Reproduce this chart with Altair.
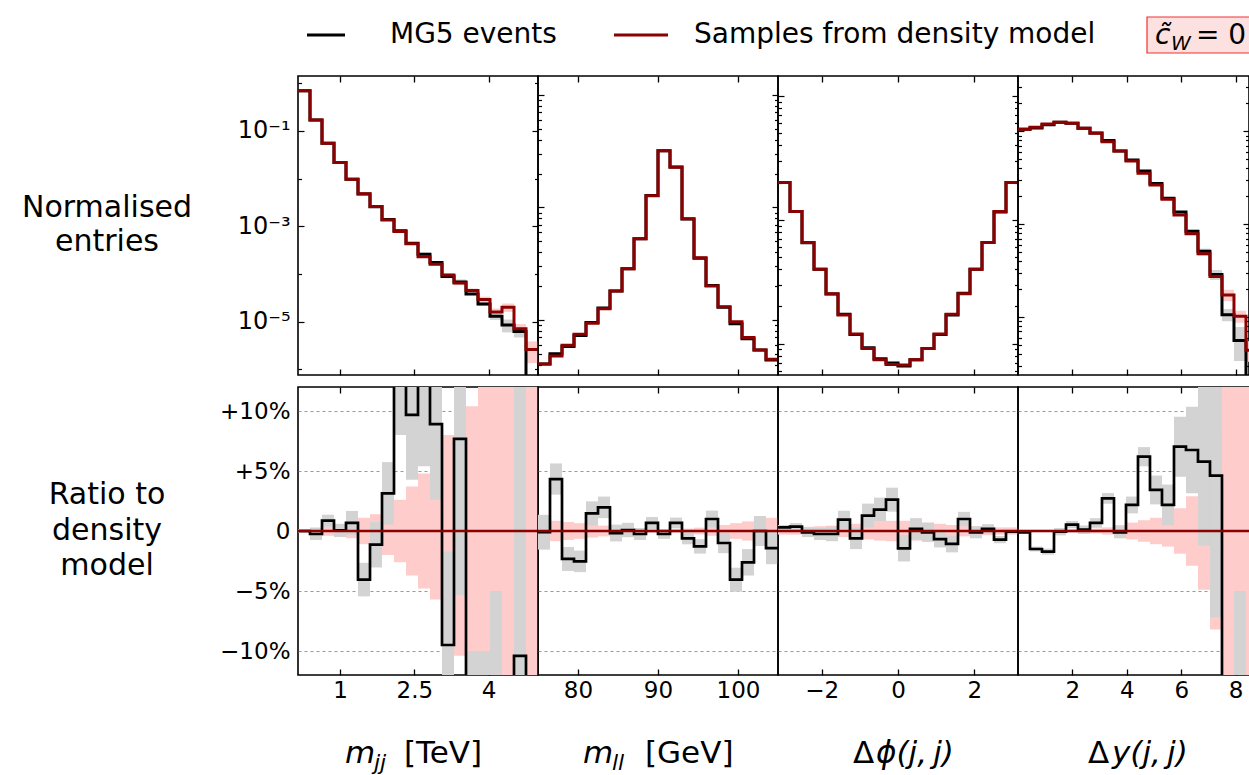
import altair as alt
import numpy as np
import pandas as pd

FONT = "DejaVu Sans"
DARKRED = "#8b0000"
PINK = "#ffcccc"
GRAY = "#d3d3d3"
N_BINS = 20
W, W4, H_TOP, H_BOT = 240, 231, 299, 288

# ---------------- binning / axis ranges ----------------
MJJ_RANGE = [0.15, 5.0]
MLL_RANGE = [75.0, 105.0]
DPHI_RANGE = [-3.14159, 3.14159]
DY_RANGE = [0.0, 8.82]
DY_VIEW = [0.0, 8.49]

MJJ_TICKS = [1, 2.5, 4]
MLL_TICKS = [80, 90, 100]
DPHI_TICKS = [-2, 0, 2]
DY_TICKS = [2, 4, 6, 8]

MJJ_YDOM = [7.6e-7, 1.42]
MLL_YDOM = [3.24e-3, 1.476]
DPHI_YDOM = [5.6e-3, 1.449]
DY_YDOM = [2.38e-4, 0.394]

# ---------------- top row: normalised entries ----------------
mjj_model = [0.70, 0.17, 0.0552, 0.0217, 0.0097, 0.00479, 0.00259, 0.00136, 7.8e-4, 4.3e-4,
             2.3e-4, 1.6e-4, 9.5e-5, 6.5e-5, 4.5e-5, 2.9e-5, 1.6e-5, 2.0e-5, 7.1e-6, 2.6e-6]
mjj_mg5 = [0.70, 0.17, 0.0552, 0.0217, 0.0097, 0.00477, 0.00258, 0.00139, 8.1e-4, 4.4e-4,
           2.6e-4, 1.74e-4, 8.8e-5, 6.8e-5, 3.8e-5, 2.34e-5, 1.29e-5, 8.5e-6, 6.2e-6, 0.0]

mll_model = [0.00406, 0.00479, 0.00596, 0.00746, 0.00933, 0.0126, 0.0181, 0.0286, 0.0528, 0.127,
             0.320, 0.228, 0.0794, 0.0358, 0.0200, 0.0131, 0.00966, 0.00697, 0.00541, 0.00447]
mll_mg5 = [0.00406, 0.00500, 0.00582, 0.00727, 0.00947, 0.0128, 0.0181, 0.0286, 0.0527, 0.128,
           0.319, 0.229, 0.0789, 0.0353, 0.0202, 0.0130, 0.00927, 0.00679, 0.00541, 0.00441]

dphi_model = [0.200, 0.1167, 0.0656, 0.0400, 0.0253, 0.0171, 0.0120, 0.00916, 0.00743, 0.00681,
              0.00673, 0.00743, 0.00916, 0.0120, 0.0173, 0.0253, 0.0400, 0.0656, 0.1167, 0.200]
dphi_mg5 = [0.2006, 0.1171, 0.0655, 0.0399, 0.0252, 0.0173, 0.0119, 0.00928, 0.00756, 0.00699,
            0.00663, 0.00744, 0.00915, 0.0119, 0.0171, 0.0256, 0.0400, 0.0657, 0.1159, 0.200]

dy_model = [0.1051, 0.1104, 0.1197, 0.1250, 0.1219, 0.1076, 0.0952, 0.0774, 0.0614, 0.0480,
            0.0353, 0.0265, 0.0186, 0.0126, 0.00787, 0.0048, 0.00274, 0.00173, 0.00102, 0.00044]
dy_mg5 = [0.1050, 0.1087, 0.1176, 0.1249, 0.1225, 0.1077, 0.0958, 0.0795, 0.0613, 0.0490,
          0.0375, 0.0274, 0.0190, 0.0135, 0.0084, 0.0051, 0.00287, 0.00106, 0.00056, 0.0]

# ---------------- bottom row: ratio to density model [%] ----------------
mjj_ratio = [0.0, -0.25, 0.86, 0.05, 0.67, -4.05, -1.14, 3.14, 15.0, 9.67,
             14.0, 8.9, -9.5, 7.67, -15.0, -19.0, -21.0, -57.0, -10.4, -100.0]
mjj_mg5_unc = [0.15, 0.5, 0.5, 0.55, 1.0, 1.4, 1.9, 2.6, 7.0, 5.4,
               8.6, 6.3, 7.8, 13.0, 5.0, 9.0, 16.0, 30.0, 25.0, 0.0]
mjj_model_unc = [0.1, 0.3, 0.4, 0.5, 0.6, 1.1, 1.4, 2.0, 2.6, 3.7,
                 4.8, 5.7, 8.0, 10.4, 10.4, 15.0, 18.0, 20.0, 25.0, 48.0]

mll_ratio = [-0.1, 4.33, -2.33, -2.53, 1.47, 1.97, -0.17, 0.08, -0.25, 0.67,
             -0.25, 0.67, -0.61, -1.28, 1.0, -1.0, -4.06, -2.61, 0.0, -1.42]
mll_mg5_unc = [1.45, 1.3, 1.0, 0.9, 1.0, 0.9, 0.7, 0.6, 0.5, 0.5,
               0.4, 0.45, 0.5, 0.6, 0.7, 0.85, 1.0, 1.1, 1.25, 1.35]
mll_model_unc = [0.9, 0.85, 0.75, 0.65, 0.55, 0.45, 0.35, 0.28, 0.22, 0.15,
                 0.12, 0.15, 0.2, 0.28, 0.4, 0.5, 0.65, 0.8, 0.95, 1.1]

dphi_ratio = [0.3, 0.36, -0.11, -0.25, -0.25, 0.94, -0.61, 1.28, 1.78, 2.61,
              -1.44, 0.17, -0.11, -0.67, -1.08, 1.0, -0.11, 0.17, -0.72, -0.06]
dphi_mg5_unc = [0.2, 0.3, 0.4, 0.5, 0.6, 0.75, 0.9, 1.0, 1.0, 1.0,
                1.1, 0.9, 0.8, 0.7, 0.7, 0.6, 0.5, 0.4, 0.3, 0.2]
dphi_model_unc = [0.3, 0.3, 0.35, 0.4, 0.45, 0.5, 0.6, 0.7, 0.8, 0.85,
                  0.85, 0.8, 0.7, 0.6, 0.5, 0.45, 0.4, 0.35, 0.3, 0.3]

dy_ratio = [-0.11, -1.5, -1.72, -0.06, 0.53, 0.11, 0.67, 2.72, -0.11, 2.17,
            6.19, 3.42, 2.17, 7.03, 6.75, 5.78, 4.61, -38.0, -45.0, -100.0]
dy_mg5_unc = [0.1, 0.2, 0.25, 0.3, 0.3, 0.35, 0.4, 0.45, 0.5, 0.7,
              0.8, 1.2, 1.7, 2.5, 3.6, 7.0, 11.8, 15.0, 40.0, 0.0]
dy_model_unc = [0.1, 0.1, 0.1, 0.15, 0.15, 0.2, 0.2, 0.3, 0.5, 0.7,
                0.9, 1.1, 1.3, 1.9, 2.9, 4.9, 8.2, 14.0, 15.0, 25.0]

RATIO_TICKS = [-10, -5, 0, 5, 10]
RATIO_DOM = [-12, 12]

ONE = pd.DataFrame({"k": [0]})
MAJ, MIN = 6, 3.5
TICK_FS = 23
XLABEL_EXPR = "datum.value < 0 ? '−' + (-datum.value) : '' + datum.value"


def log_minor(lo, hi):
    out = []
    for d in range(-8, 2):
        for k in range(2, 10):
            v = k * 10.0 ** d
            if lo < v < hi:
                out.append(v)
    return out


def xaxis(orient, ticks, labels=False):
    kw = dict(orient=orient, values=ticks, tickSize=MAJ, offset=-MAJ, domain=False,
              grid=False, title=None, tickColor="black", tickWidth=1.3, labels=labels)
    if labels:
        kw.update(labelExpr=XLABEL_EXPR, labelFontSize=TICK_FS, labelPadding=4,
                  labelColor="black", labelFont=FONT)
    return alt.Axis(**kw)


def yaxis(orient, ticks, size, labels=False):
    kw = dict(orient=orient, values=ticks, tickSize=size, offset=-size, domain=False,
              grid=False, title=None, tickColor="black", tickWidth=1.2, labels=labels)
    if labels:
        kw.update(labelFontSize=TICK_FS + 1, labelPadding=8, labelColor="black", labelFont=FONT,
                  labelExpr="'10' + (round(log(datum.value)/LN10) == -1 ? '⁻¹' : "
                            "round(log(datum.value)/LN10) == -3 ? '⁻³' : '⁻⁵')")
    return alt.Axis(**kw)


def txt(text, x, y, size, style="normal", align="left", baseline="alphabetic",
        color="black", line_height=None):
    kw = dict(text=text, fontSize=size, fontStyle=style, align=align, baseline=baseline,
              font=FONT, color=color)
    if line_height:
        kw.update(lineBreak="\n", lineHeight=line_height)
    return alt.Chart(ONE).mark_text(**kw).encode(x=alt.value(x), y=alt.value(y))


def top_panel(rng, view, model, mg5, model_unc, mg5_unc, ydom, xticks, ymajor, yminor,
              width=W, labels=False, extra=()):
    e = np.linspace(rng[0], rng[1], N_BINS + 1)
    model = np.array(model, dtype=float)
    mg5 = np.array(mg5, dtype=float)
    pu = np.array(model_unc) / 100.0
    gu = np.array(mg5_unc) / 100.0
    pink = pd.DataFrame({"lo": e[:-1], "hi": e[1:], "y1": model * (1 - pu), "y2": model * (1 + pu)})
    gray = pd.DataFrame({"lo": e[:-1], "hi": e[1:], "y1": mg5 * (1 - gu), "y2": mg5 * (1 + gu)})
    gray = gray[(mg5 > 0) & (gu > 0)]
    mg5p = np.where(mg5 > 0, mg5, 1e-12)
    steps = pd.DataFrame({"x": np.append(e[:-1], e[-1]),
                          "model": np.append(model, model[-1]),
                          "mg5": np.append(mg5p, mg5p[-1])})
    xs = alt.Scale(domain=view, nice=False, zero=False)
    ys = alt.Scale(type="log", domain=ydom, nice=False)
    l1 = alt.Chart(pink).mark_rect(color=PINK, clip=True).encode(
        x=alt.X("lo:Q", scale=xs, axis=xaxis("bottom", xticks)), x2="hi",
        y=alt.Y("y1:Q", scale=ys, axis=yaxis("left", ymajor, MAJ, labels)), y2="y2")
    l2 = alt.Chart(gray).mark_rect(color=GRAY, clip=True).encode(
        x=alt.X("lo:Q", scale=xs, axis=xaxis("top", xticks)), x2="hi",
        y=alt.Y("y1:Q", scale=ys, axis=yaxis("left", yminor, MIN)), y2="y2")
    l3 = alt.Chart(steps).mark_line(color="black", strokeWidth=3, interpolate="step-after",
                                    clip=True).encode(
        x=alt.X("x:Q", scale=xs, axis=None),
        y=alt.Y("mg5:Q", scale=ys, axis=yaxis("right", ymajor, MAJ)))
    l4 = alt.Chart(steps).mark_line(color=DARKRED, strokeWidth=3, interpolate="step-after",
                                    clip=True).encode(
        x=alt.X("x:Q", scale=xs, axis=None),
        y=alt.Y("model:Q", scale=ys, axis=yaxis("right", yminor, MIN)))
    return alt.layer(l1, l2, l3, l4, *extra).resolve_axis(x="independent", y="independent") \
        .properties(width=width, height=H_TOP)


def bottom_panel(rng, view, ratio, mg5_unc, model_unc, xticks, width=W, ylabels=False,
                 extra=()):
    e = np.linspace(rng[0], rng[1], N_BINS + 1)
    ratio = np.array(ratio, dtype=float)
    pu = np.array(model_unc, dtype=float)
    gu = np.array(mg5_unc, dtype=float)
    pink = pd.DataFrame({"lo": e[:-1], "hi": e[1:], "y1": -pu, "y2": pu})
    gray = pd.DataFrame({"lo": e[:-1], "hi": e[1:], "y1": ratio - gu, "y2": ratio + gu})
    gray = gray[gu > 0]
    steps = pd.DataFrame({"x": np.append(e[:-1], e[-1]), "r": np.append(ratio, ratio[-1])})
    xs = alt.Scale(domain=view, nice=False, zero=False)
    ys = alt.Scale(domain=RATIO_DOM, nice=False, zero=False)
    yax_kw = dict(orient="left", values=RATIO_TICKS, grid=True, gridDash=[3, 3],
                  gridColor="#7f7f7f", gridWidth=0.8, ticks=False, domain=False, title=None,
                  labels=ylabels)
    if ylabels:
        yax_kw.update(labelFontSize=TICK_FS, labelPadding=8, labelColor="black", labelFont=FONT,
                      labelExpr="datum.value > 0 ? '+' + datum.value + '%' : "
                                "(datum.value < 0 ? '−' + (-datum.value) + '%' : '0')")
    l1 = alt.Chart(pink).mark_rect(color=PINK, clip=True).encode(
        x=alt.X("lo:Q", scale=xs, axis=xaxis("bottom", xticks, labels=True)), x2="hi",
        y=alt.Y("y1:Q", scale=ys, axis=alt.Axis(**yax_kw)), y2="y2")
    l2 = alt.Chart(gray).mark_rect(color=GRAY, clip=True).encode(
        x=alt.X("lo:Q", scale=xs, axis=xaxis("top", xticks)), x2="hi",
        y=alt.Y("y1:Q", scale=ys, axis=None), y2="y2")
    l3 = alt.Chart(steps).mark_line(color="black", strokeWidth=2.7, interpolate="step-after",
                                    clip=True).encode(
        x=alt.X("x:Q", scale=xs, axis=None),
        y=alt.Y("r:Q", scale=ys, axis=None))
    l4 = alt.Chart(pd.DataFrame({"z": [0.0]})).mark_rule(color=DARKRED, strokeWidth=2.7).encode(
        y=alt.Y("z:Q", scale=ys, axis=None))
    return alt.layer(l1, l2, l3, l4, *extra).resolve_axis(x="independent", y="independent") \
        .properties(width=width, height=H_BOT)


# ---------------- legend and titles (positions relative to panels) ----------------
LEG_FS = 28
legend = [
    alt.Chart(ONE).mark_rule(color="black", strokeWidth=3).encode(
        x=alt.value(9), x2=alt.value(47), y=alt.value(-41)),
    txt("MG5 events", 92, -41, LEG_FS, baseline="middle"),
    alt.Chart(ONE).mark_rule(color=DARKRED, strokeWidth=3).encode(
        x=alt.value(316), x2=alt.value(370), y=alt.value(-41)),
    txt("Samples from density model", 396, -41, LEG_FS, baseline="middle"),
    alt.Chart(ONE).mark_rect(fill="#fde0e0", stroke="#f03030", strokeWidth=1.2).encode(
        x=alt.value(849), x2=alt.value(965), y=alt.value(-59), y2=alt.value(-23)),
    txt("c\u0303", 857, -32, LEG_FS, style="italic"),
    txt("W", 873, -26, 20, style="italic"),
    txt("= 0", 898, -32, LEG_FS),
]
YT_FS = 30
ytitle_top = [txt("Normalised\nentries", -191, 132, YT_FS, align="center", baseline="middle",
                  line_height=34)]
ytitle_bot = [txt("Ratio to\ndensity\nmodel", -191, 108, YT_FS, align="center",
                  baseline="middle", line_height=35.5)]

XT_Y, XT_FS, XT_SUB = 376, 31, 22
xt1 = [txt("m", 47, XT_Y, XT_FS, style="italic"),
       txt("jj", 76, XT_Y + 7, XT_SUB, style="italic"),
       txt("[TeV]", 106, XT_Y, XT_FS)]
xt2 = [txt("m", 45, XT_Y, XT_FS, style="italic"),
       txt("ll", 74, XT_Y + 7, XT_SUB, style="italic"),
       txt("[GeV]", 107, XT_Y, XT_FS)]
xt3 = [txt("Δ", 75, XT_Y, XT_FS), txt("ϕ(j,\u2009j)", 98, XT_Y, XT_FS, style="italic")]
xt4 = [txt("Δ", 70, XT_Y, XT_FS), txt("y(j,\u2009j)", 94, XT_Y, XT_FS, style="italic")]

# ---------------- panels ----------------
t1 = top_panel(MJJ_RANGE, MJJ_RANGE, mjj_model, mjj_mg5, mjj_model_unc, mjj_mg5_unc, MJJ_YDOM,
               MJJ_TICKS, [1e-1, 1e-3, 1e-5], [1.0, 1e-2, 1e-4, 1e-6], labels=True,
               extra=legend + ytitle_top)
t2 = top_panel(MLL_RANGE, MLL_RANGE, mll_model, mll_mg5, mll_model_unc, mll_mg5_unc, MLL_YDOM,
               MLL_TICKS, [1.0, 1e-1, 1e-2], log_minor(*MLL_YDOM))
t3 = top_panel(DPHI_RANGE, DPHI_RANGE, dphi_model, dphi_mg5, dphi_model_unc, dphi_mg5_unc,
               DPHI_YDOM, DPHI_TICKS, [1.0, 1e-1, 1e-2], log_minor(*DPHI_YDOM))
t4 = top_panel(DY_RANGE, DY_VIEW, dy_model, dy_mg5, dy_model_unc, dy_mg5_unc, DY_YDOM,
               DY_TICKS, [1e-1, 1e-2, 1e-3], log_minor(*DY_YDOM), width=W4)

b1 = bottom_panel(MJJ_RANGE, MJJ_RANGE, mjj_ratio, mjj_mg5_unc, mjj_model_unc, MJJ_TICKS,
                  ylabels=True, extra=ytitle_bot + xt1)
b2 = bottom_panel(MLL_RANGE, MLL_RANGE, mll_ratio, mll_mg5_unc, mll_model_unc, MLL_TICKS,
                  extra=xt2)
b3 = bottom_panel(DPHI_RANGE, DPHI_RANGE, dphi_ratio, dphi_mg5_unc, dphi_model_unc, DPHI_TICKS,
                  extra=xt3)
b4 = bottom_panel(DY_RANGE, DY_VIEW, dy_ratio, dy_mg5_unc, dy_model_unc, DY_TICKS, width=W4,
                  extra=xt4)

chart = alt.concat(t1, t2, t3, t4, b1, b2, b3, b4, columns=4,
                   spacing={"row": 12, "column": 0}, bounds="flush").properties(
    autosize=alt.AutoSizeParams(type="none"),
    padding={"left": 298, "top": 76, "right": 951, "bottom": 699},
).configure(
    font=FONT, background="white",
    view=alt.ViewConfig(stroke="black", strokeWidth=1.6),
)

chart.save("out.html", embed_options={"renderer": "svg", "actions": False})
